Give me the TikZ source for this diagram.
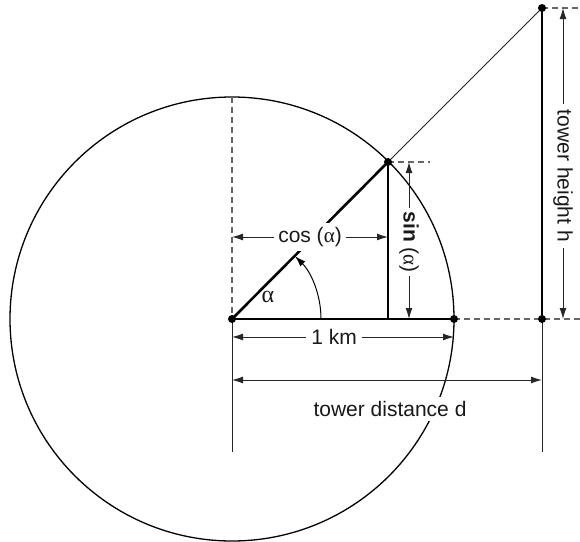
\documentclass[tikz,border=0pt]{standalone}
\usepackage{fontspec}
\setmainfont{Liberation Sans}
\newfontfamily\grk{Liberation Serif}
\usetikzlibrary{arrows.meta,calc}
\tikzset{
  thinline/.style={line width=1pt, draw=black!85},
  thickline/.style={line width=2.6pt, draw=black},
  dashline/.style={line width=1.1pt, draw=black!60, dash pattern=on 6pt off 4pt},
  dimline/.style={line width=1pt, draw=black!85, {Latex[length=11pt,width=7pt]}-{Latex[length=11pt,width=7pt]}},
  dot/.style={circle, fill=black, inner sep=0pt, minimum size=8pt},
  lbl/.style={fill=white, inner sep=4pt, font=\fontsize{21pt}{24pt}\selectfont, text=black!90},
}
\begin{document}
\begin{tikzpicture}[x=1pt,y=-1pt]
\useasboundingbox (0,0) rectangle (580,541);
% key points
\coordinate (O) at (232,319);
\coordinate (P) at (388,162);
\coordinate (A) at (454,319);
\coordinate (T) at (542,8);
\coordinate (B) at (542,319);
\coordinate (F) at (388,319);
\coordinate (Ctop) at (232,97);
\coordinate (Obot) at (232,452);
\coordinate (Bbot) at (542,452);
\coordinate (Tend) at (580,8);
\coordinate (Pend) at (430,162);
\coordinate (Aend) at (580,319);
\coordinate (arcS) at (321,319);
% circle
\draw[line width=1.3pt] (O) circle[radius=222];
% dashed helpers
\draw[dashline] (Ctop) -- (O);
\draw[dashline] (A) -- (Aend);
\draw[dashline] (T) -- (Tend);
\draw[dashline] (P) -- (Pend);
% extension lines
\draw[thinline] (O) -- (Obot);
\draw[thinline] (B) -- (Bbot);
% thin line of sight
\draw[thinline] (P) -- (T);
% thick lines
\draw[thickline] (O) -- (P);
\draw[thickline] (O) -- (A);
\draw[thickline] (P) -- (F);
\draw[thickline] (T) -- (B);
% angle arc
\draw[line width=1pt, -{Latex[length=11pt,width=7pt]}] (arcS) arc[start angle=0, end angle=-45, radius=89];
\node[font=\fontsize{24pt}{26pt}\selectfont\grk, text=black!90] (alpha) at (268,297) {α};
% dimension: cos
\coordinate (c1) at (232,237);
\coordinate (c2) at (388,237);
\draw[dimline] (c1) -- (c2) node[lbl, midway] (coslbl) {cos ({\grk α})};
% dimension: sin
\coordinate (s1) at (409,162);
\coordinate (s2) at (409,319);
\draw[dimline] (s1) -- (s2) node[lbl, pos=0.51, rotate=-90, inner sep=3pt] (sinlbl) {\textbf{sin} ({\grk α})};
% dimension: 1 km
\coordinate (k1) at (232,337);
\coordinate (k2) at (454,337);
\draw[dimline] (k1) -- (k2) node[lbl, pos=0.46, inner sep=5pt] (kmlbl) {1 km};
% dimension: tower distance
\coordinate (d1) at (232,380);
\coordinate (d2) at (542,380);
\draw[dimline] (d1) -- (d2);
\node[lbl] (distlbl) at (390,409) {tower distance d};
% dimension: tower height
\coordinate (h1) at (563,8);
\coordinate (h2) at (563,319);
\draw[dimline] (h1) -- (h2) node[lbl, pos=0.54, rotate=-90, inner sep=6pt] (hlbl) {tower height h};
% dots
\node[dot] (dO) at (O) {};
\node[dot] (dP) at (P) {};
\node[dot] (dA) at (A) {};
\node[dot] (dT) at (T) {};
\node[dot] (dB) at (B) {};
\end{tikzpicture}
\end{document}
